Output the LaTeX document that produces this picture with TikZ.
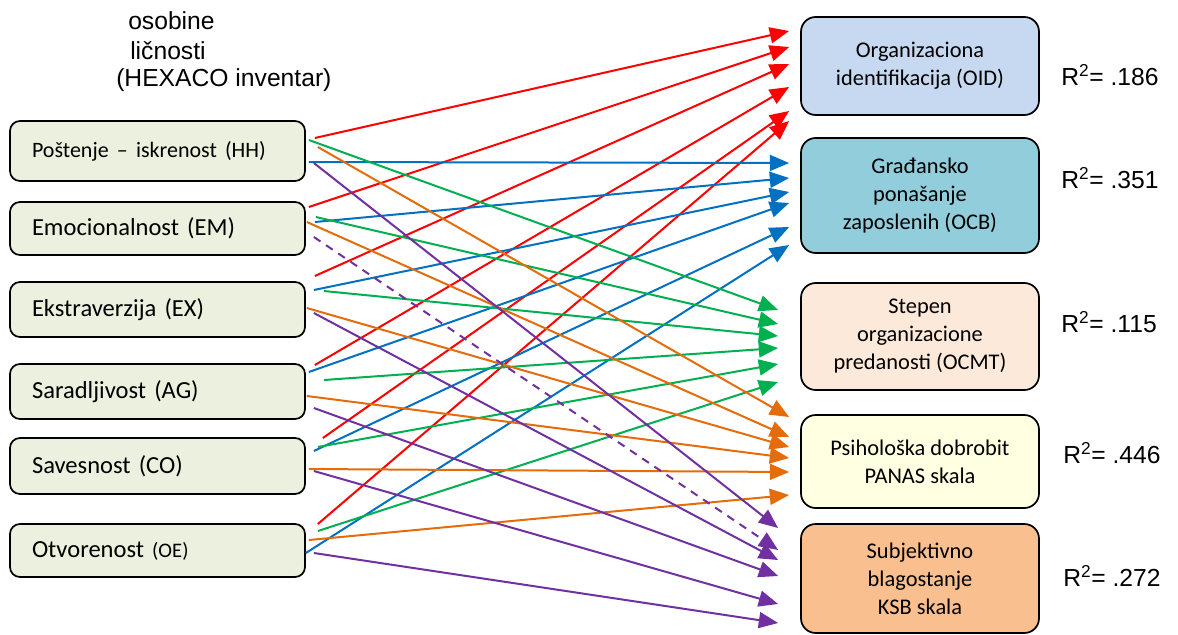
\documentclass[tikz,border=0pt]{standalone}
\usepackage{fontspec}
\setmainfont{Carlito}
\newfontfamily\arialfont{Liberation Sans}
\usetikzlibrary{arrows.meta,calc}

\definecolor{leftfill}{RGB}{235,241,222}
\definecolor{oidfill}{RGB}{198,217,241}
\definecolor{ocbfill}{RGB}{146,205,220}
\definecolor{ocmtfill}{RGB}{253,233,217}
\definecolor{panasfill}{RGB}{255,255,225}
\definecolor{ksbfill}{RGB}{250,191,143}
\definecolor{oidline}{RGB}{255,0,0}
\definecolor{ocbline}{RGB}{0,112,192}
\definecolor{ocmtline}{RGB}{0,176,80}
\definecolor{panasline}{RGB}{228,108,10}
\definecolor{ksbline}{RGB}{112,48,160}

\begin{document}
\begin{tikzpicture}[x=0.75pt,y=0.75pt,yscale=-1,xscale=1,
  leftbox/.style={draw,line width=1.3pt,rounded corners=7.5pt,fill=leftfill,
    text width=188.25pt,inner xsep=16.5pt,align=left,
    font=\fontsize{18.4}{22}\selectfont},
  rightbox/.style={draw,line width=1.3pt,rounded corners=11pt,
    minimum width=178.5pt,align=center,
    font=\fontsize{16.8}{21}\selectfont},
  rtext/.style={anchor=base west,inner sep=0pt,font=\arialfont\fontsize{18.5}{22}\selectfont},
  conn/.style={line width=1.5pt,-{Triangle[length=14.5pt,width=12pt]}},
  dashconn/.style={conn,dash pattern=on 6pt off 5pt}]
\useasboundingbox (0,0) rectangle (1178,635);

% Text Node
\node[rtext] (title1) at (128,30) {osobine};
\node[rtext] (title2) at (130,60) {ličnosti};
\node[rtext] (title3) at (116,87) {(HEXACO inventar)};

%Shape: Rounded Rect -- personality traits
\node[leftbox,minimum height=45pt] (hh) at (157.5,151) {\fontsize{16.5}{20}\selectfont Poštenje – iskrenost (HH)};
\node[leftbox,minimum height=39.75pt] (em) at (157.5,228.5) {Emocionalnost (EM)};
\node[leftbox,minimum height=41.25pt] (ex) at (157.5,309.5) {Ekstraverzija (EX)};
\node[leftbox,minimum height=41.25pt] (ag) at (157.5,391.5) {Saradljivost (AG)};
\node[leftbox,minimum height=42pt] (co) at (157.5,466) {Savesnost (CO)};
\node[leftbox,minimum height=39.75pt] (oe) at (157.5,550.5) {Otvorenost {\fontsize{15.5}{18}\selectfont(OE)}};

%Shape: Rounded Rect -- outcomes
\node[rightbox,fill=oidfill,minimum height=73.5pt] (oid) at (920,66) {Organizaciona\\identifikacija (OID)};
\node[rightbox,fill=ocbfill,minimum height=86.25pt] (ocb) at (920,195.5) {Građansko\\ponašanje\\zaposlenih (OCB)};
\node[rightbox,fill=ocmtfill,minimum height=80.25pt] (ocmt) at (920,336.5) {Stepen\\organizacione\\predanosti (OCMT)};
\node[rightbox,fill=panasfill,minimum height=69.75pt] (panas) at (920,461.5) {Psihološka dobrobit\\PANAS skala};
\node[rightbox,fill=ksbfill,minimum height=81.75pt] (ksb) at (920,578.5) {Subjektivno\\blagostanje\\KSB skala};

% Text Node -- R squared
\node[rtext] (r1) at (1061,85) {R\textsuperscript{2}= .186};
\node[rtext] (r2) at (1061,188) {R\textsuperscript{2}= .351};
\node[rtext] (r3) at (1061,332) {R\textsuperscript{2}= .115};
\node[rtext] (r4) at (1063,463) {R\textsuperscript{2}= .446};
\node[rtext] (r5) at (1063,586) {R\textsuperscript{2}= .272};

%Straight Lines -- to OID
\foreach \src/\sx/\sy/\ty in {hh/9/-13/-35,em/3/-21.5/-19,ex/9/-33.5/-2,ag/9/-26.5/21,co/17/-28/45,oe/12/-26.5/55}
  \draw[conn,oidline] ($(\src.east)+(\sx,\sy)$) -- ($(oid.west)+(-11,\ty)$);
%Straight Lines -- to OCB
\foreach \src/\sx/\sy/\ty in {hh/3/11/-32.5,em/9/-6.5/-17.5,ex/8/-19.5/-3.5,ag/3/-19.5/7.5,co/8/-15/31.5,oe/0/2.5/49.5}
  \draw[conn,ocbline] ($(\src.east)+(\sx,\sy)$) -- ($(ocb.west)+(-11,\ty)$);
%Straight Lines -- to OCMT
\foreach \src/\sx/\sy/\ty in {hh/3/-11/-26.5,em/10/-11.5/-12.5,ex/18/-18.5/-0.5,ag/18/-11.5/11.5,co/12/-19/27.5,oe/12/-19.5/45.5}
  \draw[conn,ocmtline] ($(\src.east)+(\sx,\sy)$) -- ($(ocmt.west)+(-22,\ty)$);
%Straight Lines -- to PANAS
\foreach \src/\sx/\sy/\ty in {hh/12/-4/-44.5,em/1/-6.5/-24.5,ex/1/-1.5/-14.5,ag/1/4.5/-3.5,co/3/3/10.5,oe/3/-10.5/33.5}
  \draw[conn,panasline] ($(\src.east)+(\sx,\sy)$) -- ($(panas.west)+(-11,\ty)$);
%Straight Lines -- to KSB
\foreach \src/\sx/\sy/\ty in {hh/8/12/-50.5,ex/8/3.5/-18.5,ag/8/16.5/-2.5,co/8/5/25.5,oe/8/2.5/44.5}
  \draw[conn,ksbline] ($(\src.east)+(\sx,\sy)$) -- ($(ksb.west)+(-22,\ty)$);
\draw[dashconn,ksbline] ($(em.east)+(8,8.5)$) -- ($(ksb.west)+(-22,-28.5)$);

\end{tikzpicture}
\end{document}
